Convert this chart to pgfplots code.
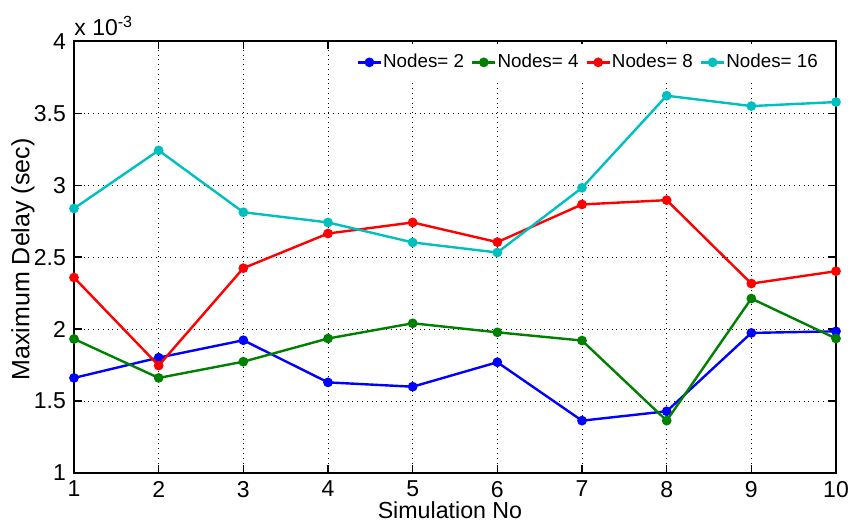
\documentclass[border=0pt]{standalone}
\usepackage{fontspec}
\setmainfont{Liberation Sans}
\usepackage{pgfplots}
\pgfplotsset{compat=1.18}
\usetikzlibrary{calc}
\definecolor{mblue}{rgb}{0,0,1}
\definecolor{mgreen}{rgb}{0,0.5,0}
\definecolor{mred}{rgb}{1,0,0}
\definecolor{mcyan}{rgb}{0,0.75,0.75}
\begin{document}
\begin{tikzpicture}
\begin{axis}[
  scale only axis,
  clip mode=individual,
  width=381pt, height=215.75pt,
  xmin=1, xmax=10, ymin=1, ymax=4,
  xtick={1,...,10},
  ytick={1,1.5,2,2.5,3,3.5,4},
  yticklabels={1,1.5,2,2.5,3,3.5,4},
  /pgf/number format/assume math mode=true,
  tick label style={font=\fontsize{11.5}{13}\selectfont},
  grid=major,
  major grid style={black, dotted, line width=0.5pt},
  tick align=inside,
  tick pos=both,
  major tick length=4pt,
  tick style={black, line width=0.8pt},
  axis line style={line width=1pt},
  xlabel={Simulation No},
  ylabel={Maximum Delay (sec)},
  xlabel style={at={(axis description cs:0.4934,-0.0857)}, anchor=center, font=\fontsize{11.6}{13}\selectfont},
  ylabel style={at={(axis description cs:-0.0669,0.495)}, anchor=center, rotate=0, font=\fontsize{12.5}{14}\selectfont},
  xticklabel style={yshift=-0.5pt},
  yticklabel style={xshift=-0.5pt},
  legend columns=4,
  legend style={at={(rel axis cs:0.995,0.995)}, anchor=north east, draw=none, fill=white,
    font=\fontsize{9.4}{11}\selectfont, inner xsep=6.5pt, inner ysep=4.5pt,
    nodes={inner sep=0.5pt},
    /tikz/every even column/.append style={column sep=3pt}},
  legend image code/.code={
    \draw[mark repeat=2,mark phase=2,#1] plot coordinates {(0pt,0pt)(5.75pt,0pt)(11.5pt,0pt)};},
  every axis plot/.append style={line width=1.2pt, mark=*, mark size=1.8pt},
]
\addplot[color=mblue, mark options={fill=mblue}] coordinates {
(1,1.661)(2,1.802)(3,1.923)(4,1.630)(5,1.600)(6,1.770)(7,1.364)(8,1.429)(9,1.974)(10,1.985)};
\addlegendentry{Nodes= 2}
\addplot[color=mgreen, mark options={fill=mgreen}] coordinates {
(1,1.932)(2,1.661)(3,1.774)(4,1.935)(5,2.041)(6,1.978)(7,1.921)(8,1.364)(9,2.213)(10,1.935)};
\addlegendentry{Nodes= 4}
\addplot[color=mred, mark options={fill=mred}] coordinates {
(1,2.359)(2,1.747)(3,2.424)(4,2.665)(5,2.742)(6,2.605)(7,2.867)(8,2.897)(9,2.317)(10,2.403)};
\addlegendentry{Nodes= 8}
\addplot[color=mcyan, mark options={fill=mcyan}] coordinates {
(1,2.839)(2,3.243)(3,2.813)(4,2.742)(5,2.603)(6,2.533)(7,2.983)(8,3.623)(9,3.551)(10,3.579)};
\addlegendentry{Nodes= 16}
\node[anchor=base west, inner sep=0pt, font=\fontsize{11.5}{13}\selectfont] at ($(rel axis cs:0,1)+(0pt,2.75pt)$) {x 10\textsuperscript{-3}};
\end{axis}
\pgfresetboundingbox
\path ($(current axis.south west)+(-37pt,-25.5pt)$) rectangle ($(current axis.north east)+(8pt,20.75pt)$);
\end{tikzpicture}
\end{document}
